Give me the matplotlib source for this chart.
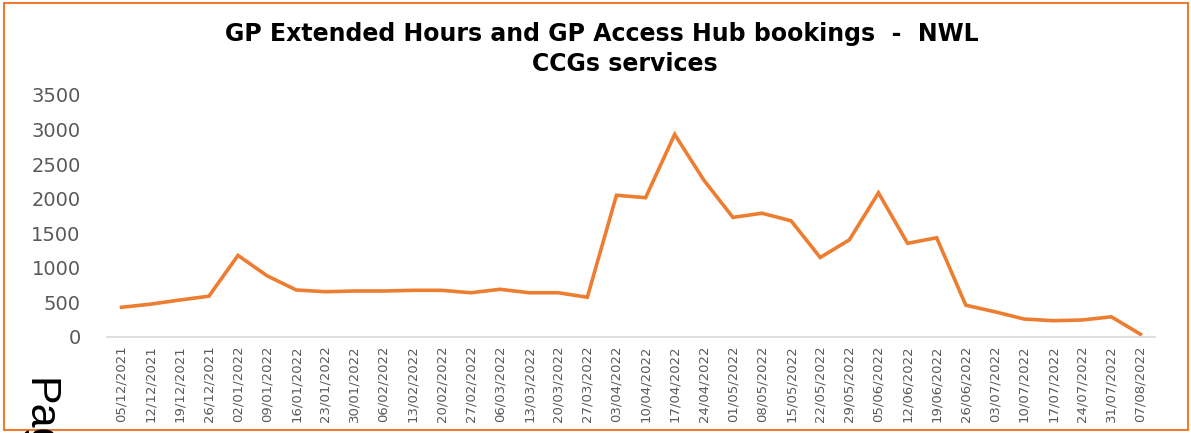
import matplotlib
matplotlib.use('Agg')
from matplotlib import pyplot as plt
from matplotlib.patches import Rectangle

# weekly bookings, NWL CCGs
weeks = ['05/12/2021', '12/12/2021', '19/12/2021', '26/12/2021',
         '02/01/2022', '09/01/2022', '16/01/2022', '23/01/2022', '30/01/2022',
         '06/02/2022', '13/02/2022', '20/02/2022', '27/02/2022',
         '06/03/2022', '13/03/2022', '20/03/2022', '27/03/2022',
         '03/04/2022', '10/04/2022', '17/04/2022', '24/04/2022',
         '01/05/2022', '08/05/2022', '15/05/2022', '22/05/2022', '29/05/2022',
         '05/06/2022', '12/06/2022', '19/06/2022', '26/06/2022',
         '03/07/2022', '10/07/2022', '17/07/2022', '24/07/2022', '31/07/2022',
         '07/08/2022']
bookings = [430, 475, 535, 590,
            1180, 885, 680, 655, 665,
            665, 675, 675, 640,
            690, 640, 640, 575,
            2050, 2015, 2930, 2270,
            1730, 1790, 1680, 1150, 1405,
            2085, 1355, 1435, 460,
            365, 260, 236, 246, 292,
            40]
yticks = [0, 500, 1000, 1500, 2000, 2500, 3000, 3500]

orange = '#ED7D31'
grey = '#595959'

W, H = 1191, 433
fig = plt.figure(figsize=(W/100, H/100), dpi=100)

# orange frame round the chart
fig.patches.append(Rectangle((4/W, 3/H), 1184/W, 427/H, transform=fig.transFigure,
                             fill=False, edgecolor=orange, linewidth=1.5))

ax = fig.add_axes([107/W, 1-337/H, 1048/W, 242/H])
x = list(range(len(weeks)))
ax.plot(x, bookings, color=orange, linewidth=2.6, solid_joinstyle='miter')
ax.set_xlim(-0.5, len(weeks)-0.5)
ax.set_ylim(0, 3500)
ax.set_yticks(yticks)
ax.set_yticklabels([str(v) for v in yticks])
ax.set_xticks(x)
ax.set_xticklabels(weeks, rotation=90)
for s in ['top', 'right', 'left']:
    ax.spines[s].set_visible(False)
ax.spines['bottom'].set_color('#D9D9D9')
ax.spines['bottom'].set_linewidth(1.2)
ax.tick_params(axis='y', length=0, pad=19, labelsize=14, labelcolor=grey)
ax.tick_params(axis='x', length=0, pad=6, labelsize=9.5, labelcolor=grey)

# title, two lines as in the original (second line sits a bit right)
fig.text(602/W, 1-22/H, 'GP Extended Hours and GP Access Hub bookings  -  NWL',
         ha='center', va='top', fontsize=17, fontweight='bold')
fig.text(625/W, 1-52/H, 'CCGs services',
         ha='center', va='top', fontsize=17, fontweight='bold')

# page label peeking in from behind
fig.text(28/W, 1-378/H, 'Page', rotation=-90, rotation_mode='anchor',
         ha='left', va='baseline', fontsize=31, family='Liberation Sans', color='black')

fig.savefig('out.png', dpi=100)
